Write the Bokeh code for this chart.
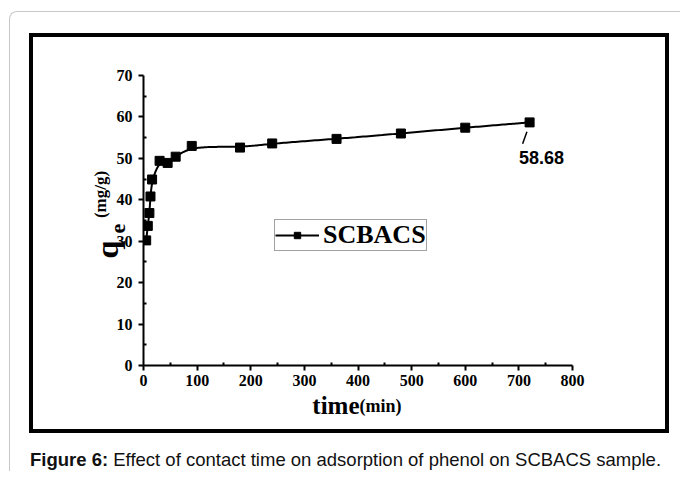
import math
import numpy as np
from bokeh.plotting import figure
from bokeh.layouts import column
from bokeh.models import Range1d, FixedTicker, Label, Legend, LegendItem, Div
from bokeh.embed import file_html
from bokeh.resources import INLINE

# ---- data ----
time_min = [5, 8, 11, 13, 16, 30, 45, 60, 90, 180, 240, 360, 480, 600, 720]
qe = [30.2, 33.7, 36.8, 40.8, 44.9, 49.4, 48.9, 50.4, 53.0, 52.6, 53.6, 54.7, 56.0, 57.4, 58.68]
x_ticks = [0, 100, 200, 300, 400, 500, 600, 700, 800]
x_minor = [50, 150, 250, 350, 450, 550, 650, 750]
y_ticks = [0, 10, 20, 30, 40, 50, 60, 70]
y_minor = [5, 15, 25, 35, 45, 55, 65]
series_name = "SCBACS"
final_value = "58.68"
caption_bold = "Figure 6:"
caption_text = "Effect of contact time on adsorption of phenol on SCBACS sample."

# smooth connecting curve (uniform clamped cubic B-spline using the data as control points)
P = np.column_stack([time_min, qe]).astype(float)
Pp = np.vstack([P[:1], P[:1], P, P[-1:], P[-1:]])
tt = np.linspace(0, 1, 25)
b0 = (1 - tt) ** 3 / 6
b1 = (3 * tt ** 3 - 6 * tt ** 2 + 4) / 6
b2 = (-3 * tt ** 3 + 3 * tt ** 2 + 3 * tt + 1) / 6
b3 = tt ** 3 / 6
segs = []
for i in range(len(Pp) - 3):
    segs.append(np.outer(b0, Pp[i]) + np.outer(b1, Pp[i + 1]) +
                np.outer(b2, Pp[i + 2]) + np.outer(b3, Pp[i + 3]))
curve = np.vstack(segs)

W, H = 632, 392
p = figure(width=W, height=H, output_backend="svg", toolbar_location=None,
           x_range=Range1d(0, 800), y_range=Range1d(0, 70),
           min_border_left=110, min_border_right=101,
           min_border_top=38, min_border_bottom=72,
           margin=(21, 0, 0, 19),
           styles={"border": "4px solid black", "box-sizing": "content-box"})
p.grid.visible = False
p.outline_line_color = None
p.background_fill_color = "white"
p.border_fill_color = "white"

serif = "Liberation Serif"
for ax in (p.xaxis[0], p.yaxis[0]):
    ax.axis_line_width = 2
    ax.axis_line_color = "black"
    ax.major_tick_line_width = 2
    ax.minor_tick_line_width = 2
    ax.major_tick_out = 5
    ax.major_tick_in = 0
    ax.minor_tick_out = 0
    ax.minor_tick_in = 3
    ax.major_label_text_font = serif
    ax.major_label_text_font_style = "bold"
    ax.major_label_text_font_size = "16px"
    ax.major_label_text_color = "black"
p.xaxis.ticker = FixedTicker(ticks=x_ticks, minor_ticks=x_minor)
p.yaxis.ticker = FixedTicker(ticks=y_ticks, minor_ticks=y_minor)
p.xaxis.major_label_standoff = 4
p.yaxis.major_label_standoff = 6

line_r = p.line(curve[:, 0], curve[:, 1], line_width=2, color="black")
sq_r = p.scatter(time_min, qe, marker="square", size=9, color="black")

# pointer to last value
p.segment(x0=[715], y0=[56.4], x1=[707], y1=[53.5], line_width=1.5, color="black")

legend = Legend(items=[LegendItem(label=series_name, renderers=[line_r, sq_r])],
                location=(131, 114), orientation="vertical",
                label_text_font=serif, label_text_font_style="bold",
                label_text_font_size="26px", label_text_color="black",
                label_text_line_height=0.8,
                glyph_width=44, glyph_height=16, label_height=16,
                label_standoff=4, padding=0, spacing=0, margin=0,
                border_line_color="#444444", border_line_width=1,
                background_fill_color="white", background_fill_alpha=1)
p.add_layout(legend)


def lab(text, x, y, size, place=None, font=serif, style="bold", align="center",
        baseline="middle", angle=0.0):
    lbl = Label(x=x, y=y, x_units="canvas", y_units="canvas", text=text,
                text_font=font, text_font_style=style, text_font_size=size,
                text_color="black", text_align=align, text_baseline=baseline,
                angle=angle)
    if place is None:
        p.add_layout(lbl)
    else:
        p.add_layout(lbl, place)


# x axis title (canvas coordinates of this figure)
lab("time", 322, 364, "25px", place="below", align="right", baseline="alphabetic")
lab("(min)", 322, 364, "18px", place="above", align="left", baseline="alphabetic")
# y axis title (rotated)
lab("q", 69, 208, "32px", place="left", angle=math.pi / 2)
lab("e", 80, 187, "22px", place="left", angle=math.pi / 2)
lab("(mg/g)", 63, 153, "17px", place="right", angle=math.pi / 2)

# value label inside the plot area
lab(final_value, 504, 116, "18px", font="Liberation Sans")

caption = Div(text=f"<b>{caption_bold}</b> {caption_text}", width=650, height=24,
              margin=(14, 0, 0, 20),
              styles={"font-family": "'Liberation Sans', Arial, sans-serif",
                      "font-size": "18.5px", "color": "#111111",
                      "white-space": "nowrap"})

page = column(p, caption, margin=(11, 0, 0, 9),
              styles={"border-top": "1px solid #c8c8c8", "border-left": "1px solid #c8c8c8",
                      "border-top-left-radius": "8px"})

open("out.html", "w").write(file_html(page, INLINE))
